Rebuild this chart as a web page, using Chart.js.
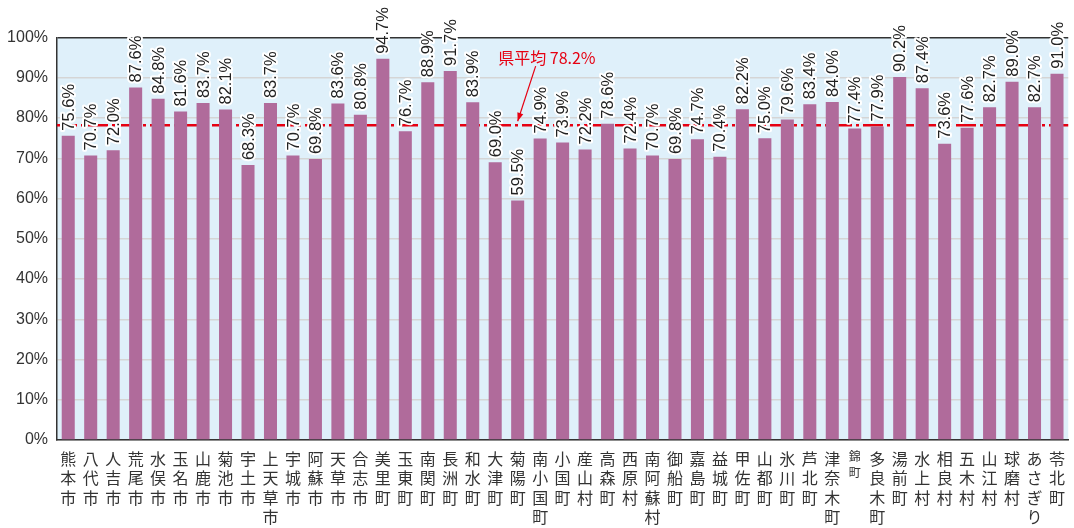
<!DOCTYPE html>
<html>
<head>
<meta charset="utf-8">
<script src="https://cdn.jsdelivr.net/npm/chart.js@4"></script>
<style>
  html, body { margin: 0; padding: 0; background: #fff; }
  #wrap { width: 1074px; height: 528px; }
</style>
</head>
<body>
<div id="wrap"><canvas id="myChart" width="1074" height="528"></canvas></div>
<script>
// 市町村名
const town_labels = [
  '熊本市', '八代市', '人吉市', '荒尾市', '水俣市', '玉名市', '山鹿市', '菊池市', '宇土市',
  '上天草市', '宇城市', '阿蘇市', '天草市', '合志市', '美里町', '玉東町', '南関町', '長洲町',
  '和水町', '大津町', '菊陽町', '南小国町', '小国町', '産山村', '高森町', '西原村', '南阿蘇村',
  '御船町', '嘉島町', '益城町', '甲佐町', '山都町', '氷川町', '芦北町', '津奈木町', '錦町',
  '多良木町', '湯前町', '水上村', '相良村', '五木村', '山江村', '球磨村', 'あさぎり町', '苓北町'
];
// 割合 (%)
const town_values = [
  75.6, 70.7, 72.0, 87.6, 84.8, 81.6, 83.7, 82.1, 68.3,
  83.7, 70.7, 69.8, 83.6, 80.8, 94.7, 76.7, 88.9, 91.7,
  83.9, 69.0, 59.5, 74.9, 73.9, 72.2, 78.6, 72.4, 70.7,
  69.8, 74.7, 70.4, 82.2, 75.0, 79.6, 83.4, 84.0, 77.4,
  77.9, 90.2, 87.4, 73.6, 77.6, 82.7, 89.0, 82.7, 91.0
];
// 県平均
const pref_avg = 78.2;
const pref_avg_label = '県平均 78.2%';
// y軸目盛
const y_ticks = [0, 10, 20, 30, 40, 50, 60, 70, 80, 90, 100];

const RED = '#e60012';

// 背景（水色）
const bgPlugin = {
  id: 'plotBg',
  beforeDraw(chart) {
    const a = chart.chartArea, c = chart.ctx;
    c.save();
    c.fillStyle = '#dff0fa';
    c.fillRect(a.left, a.top, a.right - a.left, a.bottom - a.top);
    c.restore();
  }
};

// 県平均の線（棒の後ろ）
const avgLinePlugin = {
  id: 'avgLine',
  beforeDatasetsDraw(chart) {
    const a = chart.chartArea, c = chart.ctx;
    const y = chart.scales.y.getPixelForValue(pref_avg);
    c.save();
    c.strokeStyle = RED;
    c.lineWidth = 2.5;
    c.setLineDash([20, 4, 3, 4]);
    c.beginPath();
    c.moveTo(a.left, y);
    c.lineTo(a.right, y);
    c.stroke();
    c.restore();
  }
};

// 棒の上の数値（縦書き）
const valueLabelPlugin = {
  id: 'valueLabels',
  afterDatasetsDraw(chart) {
    const c = chart.ctx;
    const meta = chart.getDatasetMeta(0);
    c.save();
    c.font = '16.5px "Liberation Sans", Arial, sans-serif';
    c.textAlign = 'left';
    c.textBaseline = 'middle';
    c.lineJoin = 'round';
    meta.data.forEach(function(bar, i) {
      const txt = town_values[i].toFixed(1) + '%';
      c.save();
      c.translate(bar.x + 1, bar.y - 5);
      c.rotate(-Math.PI / 2);
      c.strokeStyle = '#fff';
      c.lineWidth = 4;
      c.strokeText(txt, 0, 0);
      c.fillStyle = '#222';
      c.fillText(txt, 0, 0);
      c.restore();
    });
    c.restore();
  }
};

// 「県平均 78.2%」と矢印
const avgNotePlugin = {
  id: 'avgNote',
  afterDraw(chart) {
    const c = chart.ctx, x = chart.scales.x, y = chart.scales.y;
    const tx = x.getPixelForValue(21.3), ty = y.getPixelForValue(95.0);
    const sx = x.getPixelForValue(20.8), sy = y.getPixelForValue(92.9);
    const ex = x.getPixelForValue(20), ey = y.getPixelForValue(pref_avg) - 4;
    c.save();
    c.fillStyle = RED;
    c.font = '16px "Noto Sans CJK JP", sans-serif';
    c.textAlign = 'center';
    c.textBaseline = 'middle';
    c.fillText(pref_avg_label, tx, ty);
    c.strokeStyle = RED;
    c.lineWidth = 1.2;
    c.beginPath();
    c.moveTo(sx, sy);
    c.lineTo(ex, ey);
    c.stroke();
    const ang = Math.atan2(ey - sy, ex - sx);
    c.beginPath();
    c.moveTo(ex, ey);
    c.lineTo(ex - 9 * Math.cos(ang - 0.35), ey - 9 * Math.sin(ang - 0.35));
    c.lineTo(ex - 9 * Math.cos(ang + 0.35), ey - 9 * Math.sin(ang + 0.35));
    c.closePath();
    c.fill();
    c.restore();
  }
};

const chart_data = {
  labels: town_labels,
  datasets: [{
    label: '割合',
    backgroundColor: '#b06b9b',
    borderWidth: 0,
    barPercentage: 0.58,
    categoryPercentage: 1.0,
    data: town_values,
  }]
};

const chart_config = {
  type: 'bar',
  data: chart_data,
  options: {
    responsive: false,
    animation: false,
    layout: { padding: { top: 37.5, right: 0, left: 0, bottom: 0 } },
    plugins: {
      legend: { display: false },
      tooltip: { enabled: false }
    },
    scales: {
      x: {
        afterFit(scale) { scale.height = 88; },
        grid: { display: false, drawTicks: false },
        border: { color: '#333', width: 1.5 },
        ticks: {
          autoSkip: false,
          maxRotation: 0,
          minRotation: 0,
          padding: 9,
          color: '#333',
          font: function(ctx) {
            if (ctx.index === 35) {
              return { family: '"Noto Sans CJK JP", sans-serif', size: 12, lineHeight: 1.3 };
            }
            return { family: '"Noto Sans CJK JP", sans-serif', size: 16, lineHeight: 1.22 };
          },
          callback: function(v) {
            return this.getLabelForValue(v).split('');
          }
        }
      },
      y: {
        min: 0,
        max: 100,
        afterFit(scale) { scale.width = 57; },
        afterBuildTicks(scale) {
          scale.ticks = y_ticks.map(function(v) { return { value: v }; });
        },
        grid: {
          drawTicks: false,
          lineWidth: 1.5,
          color: function(ctx) {
            return (ctx.tick && ctx.tick.value === 100) ? '#333' : '#d5d5d5';
          }
        },
        border: { color: '#333', width: 1.5 },
        ticks: {
          padding: 9,
          color: '#333',
          font: { family: '"Liberation Sans", Arial, sans-serif', size: 16 },
          callback: function(v) { return v + '%'; }
        }
      }
    }
  },
  plugins: [bgPlugin, avgLinePlugin, valueLabelPlugin, avgNotePlugin]
};

document.addEventListener('DOMContentLoaded', function () {
  new Chart(document.getElementById('myChart'), chart_config);
});
</script>
</body>
</html>
